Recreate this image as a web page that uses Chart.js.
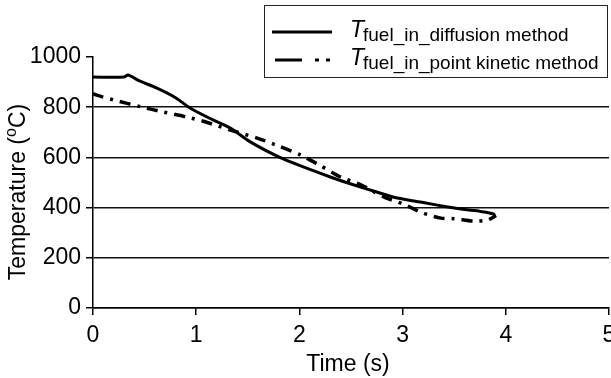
<!DOCTYPE html>
<html>
<head>
<meta charset="utf-8">
<script src="https://cdn.jsdelivr.net/npm/chart.js@4/dist/chart.umd.min.js"></script>
<style>
  html, body { margin: 0; padding: 0; background: #fff; }
  #wrap { width: 611px; height: 378px; }
</style>
</head>
<body>
<div id="wrap"><canvas id="chart"></canvas></div>
<script>
// Data
const diffusionTime = [0, 0.3, 0.34, 0.45, 0.62, 0.8, 0.94, 1.13, 1.33, 1.52, 1.8, 2.0, 2.3, 2.5, 2.75, 2.95, 3.2, 3.47, 3.6, 3.75, 3.88, 3.9];
const diffusionTemp = [920, 920, 928, 905, 876, 838, 797, 756, 717, 663, 602, 568, 522, 494, 462, 438, 420, 400, 392, 385, 375, 360];

const kineticTime = [0, 0.02, 0.2, 0.46, 0.68, 0.91, 1.1, 1.33, 1.59, 1.8, 2.01, 2.2, 2.4, 2.6, 2.82, 3.0, 3.2, 3.37, 3.5, 3.69, 3.82, 3.88, 3.9];
const kineticTemp = [855, 850, 829, 802, 781, 761, 740, 709, 677, 645, 610, 568, 522, 490, 442, 415, 378, 358, 356, 346, 350, 362, 368];

const xTicks = [0, 1, 2, 3, 4, 5];
const yTicks = [0, 200, 400, 600, 800, 1000];

const seriesSub = ['fuel_in_diffusion method', 'fuel_in_point kinetic method'];
const xTitle = 'Time (s)';
const yTitle = ['Temperature (', 'o', 'C)'];

const FONT = '"Liberation Sans", Arial, sans-serif';

function toPoints(xs, ys) {
    return xs.map((x, i) => ({ x: x, y: ys[i] }));
}

// titles and the boxed legend with italic T and subscripts
const decorations = {
    id: 'decorations',
    afterDraw(chart) {
        const ctx = chart.ctx;
        const area = chart.chartArea;
        ctx.save();
        ctx.fillStyle = '#000';

        // x title
        ctx.font = '23px ' + FONT;
        ctx.textAlign = 'center';
        ctx.textBaseline = 'alphabetic';
        ctx.fillText(xTitle, (area.left + area.right) / 2 - 3, 371);

        // y title, rotated, with superscript o
        ctx.save();
        ctx.translate(25, 192);
        ctx.rotate(-Math.PI / 2);
        ctx.textAlign = 'left';
        ctx.font = '23px ' + FONT;
        const w0 = ctx.measureText(yTitle[0]).width;
        const w2 = ctx.measureText(yTitle[2]).width;
        ctx.font = '16px ' + FONT;
        const w1 = ctx.measureText(yTitle[1]).width;
        let x = -(w0 + w1 + w2) / 2;
        ctx.font = '23px ' + FONT;
        ctx.fillText(yTitle[0], x, 0);
        x += w0;
        ctx.font = '16px ' + FONT;
        ctx.fillText(yTitle[1], x, -9);
        x += w1;
        ctx.font = '23px ' + FONT;
        ctx.fillText(yTitle[2], x, 0);
        ctx.restore();

        // legend box
        ctx.strokeStyle = '#222';
        ctx.lineWidth = 1;
        ctx.strokeRect(264.5, 5.5, 343, 72);

        ctx.lineWidth = 3;
        ctx.strokeStyle = '#000';
        ctx.beginPath();
        ctx.moveTo(272, 32);
        ctx.lineTo(332, 32);
        ctx.stroke();

        ctx.setLineDash([27, 13, 4, 7, 4, 60]);
        ctx.beginPath();
        ctx.moveTo(275, 60);
        ctx.lineTo(331, 60);
        ctx.stroke();
        ctx.setLineDash([]);

        const rows = [39, 67];
        ctx.textAlign = 'left';
        rows.forEach((yb, i) => {
            ctx.font = 'italic 23px ' + FONT;
            ctx.fillText('T', 350, yb - 2);
            ctx.font = '19px ' + FONT;
            ctx.fillText(seriesSub[i], 363, yb + 2);
        });
        ctx.restore();
    }
};

new Chart(document.getElementById('chart'), {
    type: 'line',
    data: {
        datasets: [
            {
                label: 'T ' + seriesSub[0],
                data: toPoints(diffusionTime, diffusionTemp),
                borderColor: '#000',
                borderWidth: 3,
                pointRadius: 0,
                tension: 0.25,
                fill: false
            },
            {
                label: 'T ' + seriesSub[1],
                data: toPoints(kineticTime, kineticTemp),
                borderColor: '#000',
                borderWidth: 3.5,
                borderDash: [11, 7, 3, 7],
                pointRadius: 0,
                tension: 0.25,
                fill: false
            }
        ]
    },
    options: {
        responsive: true,
        maintainAspectRatio: false,
        animation: false,
        layout: { padding: { top: 57, right: 2, left: 0, bottom: 0 } },
        plugins: {
            legend: { display: false },
            tooltip: { enabled: false }
        },
        scales: {
            x: {
                type: 'linear',
                min: 0,
                max: 5,
                afterBuildTicks: s => { s.ticks = xTicks.map(v => ({ value: v })); },
                afterFit: s => { s.height = 70; s.paddingLeft = 0; s.paddingRight = 0; },
                grid: { drawOnChartArea: false, drawTicks: true, tickLength: 7, tickColor: '#000', lineWidth: 1.5 },
                border: { display: true, color: '#000', width: 1.5 },
                ticks: { color: '#000', font: { family: FONT, size: 23 }, padding: 7, maxRotation: 0, callback: v => String(v) }
            },
            y: {
                type: 'linear',
                min: 0,
                max: 1000,
                afterBuildTicks: s => { s.ticks = yTicks.map(v => ({ value: v })); },
                afterFit: s => { s.width = 93; s.paddingTop = 0; s.paddingBottom = 0; },
                grid: {
                    drawTicks: true,
                    tickLength: 7,
                    tickColor: '#000',
                    lineWidth: 1.5,
                    color: c => (c.tick && c.tick.value === 1000) ? 'rgba(0,0,0,0)' : '#111'
                },
                border: { display: true, color: '#000', width: 1.5 },
                ticks: { color: '#000', font: { family: FONT, size: 23 }, padding: 5, callback: v => String(v) }
            }
        }
    },
    plugins: [decorations]
});
</script>
</body>
</html>
